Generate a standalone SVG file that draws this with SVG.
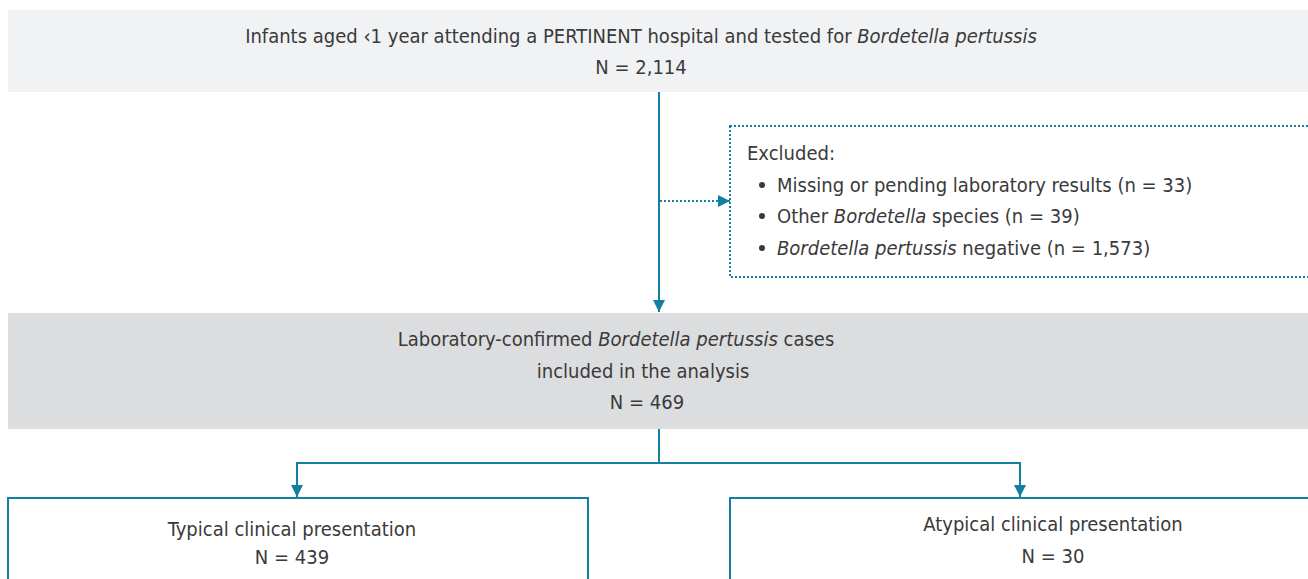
<svg xmlns="http://www.w3.org/2000/svg" width="1308" height="579" viewBox="0 0 1308 579">
<style>
text{font-family:"DejaVu Sans Condensed","Liberation Sans Narrow","Liberation Sans",sans-serif;font-size:20px;fill:#3a3a3a}
.c{text-anchor:middle}
.i{font-style:italic}
.ln{stroke:#14809f;stroke-width:2;fill:none}
.dt{stroke:#14809f;stroke-width:2;fill:none;stroke-dasharray:2 2}
</style>
<defs>
<marker id="ah" viewBox="0 0 12 12" refX="12" refY="6" markerWidth="12" markerHeight="12" markerUnits="userSpaceOnUse" orient="auto">
<path d="M0,0 L12,6 L0,12 Z" fill="#14809f"/>
</marker>
</defs>
<g id="connectors">
<line class="ln" x1="659" y1="92" x2="659" y2="312" marker-end="url(#ah)"/>
<line class="dt" x1="660" y1="201" x2="730" y2="201" marker-end="url(#ah)"/>
<polyline class="ln" points="659,429 659,463 297,463 297,497" marker-end="url(#ah)"/>
<polyline class="ln" points="659,463 1020,463 1020,497" marker-end="url(#ah)"/>
</g>
<g id="node-top">
<rect x="8" y="10" width="1300" height="82" fill="#f1f2f3"/>
<text class="c" x="641" y="43">Infants aged ‹1 year attending a PERTINENT hospital and tested for <tspan class="i">Bordetella pertussis</tspan></text>
<text class="c" x="641" y="74">N = 2,114</text>
</g>
<g id="node-excluded">
<rect x="730" y="126" width="590" height="151" fill="none" stroke="#14809f" stroke-width="2" stroke-dasharray="2 2"/>
<text x="747" y="160">Excluded:</text>
<circle cx="762" cy="185" r="3" fill="#3a3a3a"/>
<circle cx="762" cy="216" r="3" fill="#3a3a3a"/>
<circle cx="762" cy="248" r="3" fill="#3a3a3a"/>
<text x="777" y="192">Missing or pending laboratory results (n = 33)</text>
<text x="777" y="223">Other <tspan class="i">Bordetella</tspan> species (n = 39)</text>
<text x="777" y="255"><tspan class="i">Bordetella pertussis</tspan> negative (n = 1,573)</text>
</g>
<g id="node-confirmed">
<rect x="8" y="313" width="1300" height="116" fill="#dcdddf"/>
<text class="c" x="616" y="346">Laboratory-confirmed <tspan class="i">Bordetella pertussis</tspan> cases</text>
<text class="c" x="643" y="378">included in the analysis</text>
<text class="c" x="647" y="409">N = 469</text>
</g>
<g id="node-typical">
<rect x="8" y="498" width="580" height="100" fill="#fff" stroke="#14809f" stroke-width="2"/>
<text class="c" x="292" y="536">Typical clinical presentation</text>
<text class="c" x="292" y="564">N = 439</text>
</g>
<g id="node-atypical">
<rect x="730" y="498" width="590" height="100" fill="#fff" stroke="#14809f" stroke-width="2"/>
<text class="c" x="1053" y="531">Atypical clinical presentation</text>
<text class="c" x="1053" y="563">N = 30</text>
</g>
</svg>
